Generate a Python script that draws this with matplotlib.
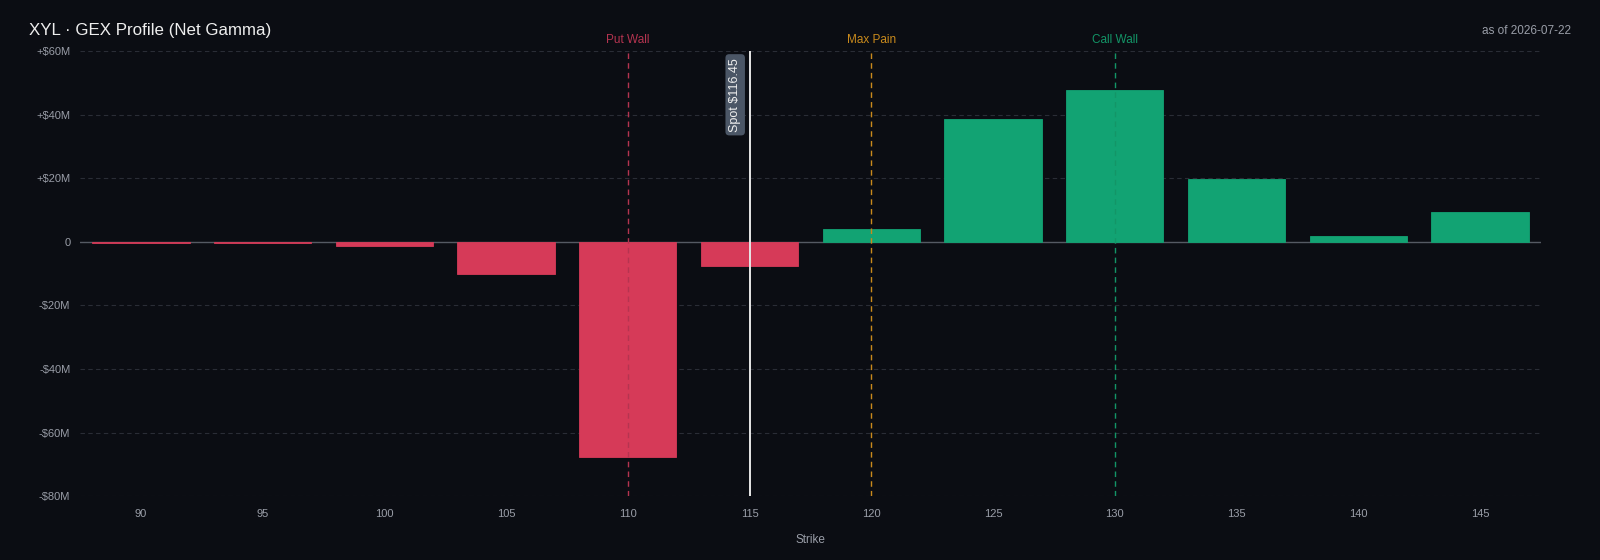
import matplotlib
matplotlib.use("Agg")
import matplotlib.pyplot as plt
from matplotlib.ticker import FuncFormatter

plt.rcParams['font.family'] = ['Liberation Sans', 'DejaVu Sans']

# datos (millones de $)
strikes = [90, 95, 100, 105, 110, 115, 120, 125, 130, 135, 140, 145]
net_gex = [-0.5, -0.5, -1.3, -10.1, -67.8, -7.6, 4.1, 38.5, 47.7, 19.6, 1.9, 9.5]
ticker = "XYL"
as_of = "2026-07-22"
spot = 116.45
put_wall = 110
max_pain = 120
call_wall = 130

bg = "#0b0d13"
red = "#d63a58"
green = "#12a373"
tick_col = "#9a9ea8"
grid_col = "#2a2d36"

fig = plt.figure(figsize=(16, 5.6), dpi=100, facecolor=bg)
ax = fig.add_axes([0.05, 0.114, 0.913, 0.795], facecolor=bg)

colors = [green if v >= 0 else red for v in net_gex]
ax.bar(strikes, net_gex, width=4.0, color=colors, edgecolor=colors, linewidth=0.6, zorder=3)

ax.set_xlim(87.5, 147.5)
ax.set_ylim(-80, 60)
ax.set_yticks([-80, -60, -40, -20, 0, 20, 40, 60])
ax.set_xticks(strikes)

def fmt_m(v, pos):
    if v == 0:
        return "0"
    if v > 0:
        return "+$%dM" % v
    return "-$%dM" % abs(v)

ax.yaxis.set_major_formatter(FuncFormatter(fmt_m))
ax.grid(axis="y", color=grid_col, linestyle=(0, (4, 3)), linewidth=0.8, zorder=0)
ax.axhline(0, color="#555a63", linewidth=1.0, zorder=2)

for s in ax.spines.values():
    s.set_visible(False)
ax.tick_params(colors=tick_col, labelsize=8, length=0)
ax.tick_params(axis="y", pad=7)
ax.tick_params(axis="x", pad=9)
ax.set_xlabel("Strike", color=tick_col, fontsize=8.5, labelpad=11)

# lineas de referencia
refs = [(put_wall, "Put Wall", "#b53450"),
        (max_pain, "Max Pain", "#c98a1c"),
        (call_wall, "Call Wall", "#139567")]
for x, lab, c in refs:
    ax.axvline(x, color=c, linestyle=(0, (4, 3)), linewidth=1.0, zorder=4)
    ax.text(x, 61.5, lab, color=c, fontsize=8.5, ha="center", va="bottom")

# spot en la categoria mas cercana
spot_x = min(strikes, key=lambda k: abs(k - spot))
ax.axvline(spot_x, color="#e6e6e6", linewidth=1.4, zorder=5)
ax.annotate("Spot $%.2f" % spot, xy=(spot_x, 60), xytext=(-6, -5),
            textcoords="offset points", rotation=90, ha="right", va="top",
            color="#f0f0f0", fontsize=9,
            bbox=dict(boxstyle="round,pad=0.3", fc="#4b5666", ec="none"), zorder=6)

fig.text(0.018, 0.945, "%s · GEX Profile (Net Gamma)" % ticker, color="#eeeeee",
         fontsize=12.2, ha="left", va="center")
fig.text(0.982, 0.945, "as of %s" % as_of, color=tick_col, fontsize=8.5,
         ha="right", va="center")

fig.savefig("out.png", dpi=100, facecolor=bg)
